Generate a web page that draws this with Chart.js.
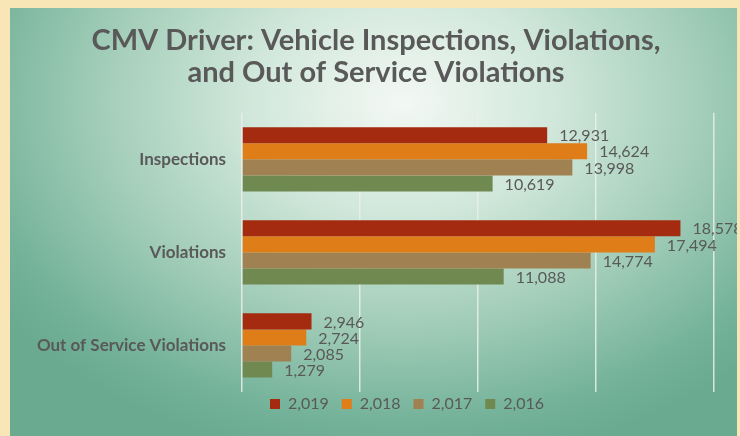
<!DOCTYPE html>
<html>
<head>
<meta charset="utf-8">
<script src="https://cdn.jsdelivr.net/npm/chart.js@4"></script>
<style>
  html, body { margin: 0; padding: 0; }
  body { width: 740px; height: 436px; background: #f9e6b6; position: relative; overflow: hidden; }
  #panel {
    position: absolute; left: 10px; top: 8px; width: 727px; height: 428px; overflow: hidden;
    background: radial-gradient(ellipse 68% 85% at 54% 22%, #f3f8f4 0%, #d2e8dc 30%, #a4ceba 60%, #74b29a 88%, #6aaa91 100%);
  }
  #wrap { position: absolute; left: -10px; top: -8px; width: 740px; height: 436px; }
</style>
</head>
<body>
<div id="panel">
  <div id="wrap"><canvas id="chart" width="740" height="436"></canvas></div>
</div>
<script>
// data
const categories = ['Inspections', 'Violations', 'Out of Service Violations'];
const years = ['2,019', '2,018', '2,017', '2,016'];
const values2019 = [12931, 18578, 2946];
const values2018 = [14624, 17494, 2724];
const values2017 = [13998, 14774, 2085];
const values2016 = [10619, 11088, 1279];
const colors = ['#a52b10', '#df7d19', '#a08152', '#6f8950'];

const textColor = '#595959';
const fontName = 'Lato, "Open Sans", sans-serif';

// value labels at the end of each bar
const barLabels = {
  id: 'barLabels',
  afterDatasetsDraw(chart) {
    const ctx = chart.ctx;
    ctx.save();
    ctx.font = '16px ' + fontName;
    ctx.fillStyle = textColor;
    ctx.textAlign = 'left';
    ctx.textBaseline = 'middle';
    chart.data.datasets.forEach((ds, i) => {
      chart.getDatasetMeta(i).data.forEach((bar, j) => {
        ctx.fillText(ds.data[j].toLocaleString('en-US'), bar.x + 12, bar.y + 1);
      });
    });
    ctx.restore();
  }
};

// title and legend sit a bit right of centre in the original
const shiftBoxes = {
  id: 'shiftBoxes',
  afterLayout(chart) {
    const lg = chart.legend;
    lg.left += 45;
    lg.right += 45;
    lg.top -= 9;
    lg.bottom -= 9;
    const tb = chart.titleBlock;
    tb.left += 14;
    tb.right += 14;
  }
};

new Chart(document.getElementById('chart'), {
  type: 'bar',
  data: {
    labels: categories,
    datasets: [
      { label: years[0], data: values2019, backgroundColor: colors[0] },
      { label: years[1], data: values2018, backgroundColor: colors[1] },
      { label: years[2], data: values2017, backgroundColor: colors[2] },
      { label: years[3], data: values2016, backgroundColor: colors[3] }
    ]
  },
  plugins: [barLabels, shiftBoxes],
  options: {
    indexAxis: 'y',
    responsive: false,
    animation: false,
    layout: { padding: { left: 10, right: 26, top: 0, bottom: 5 } },
    categoryPercentage: 0.69,
    barPercentage: 1.0,
    scales: {
      x: {
        min: 0,
        max: 20000,
        ticks: { display: false, stepSize: 5000 },
        grid: { color: 'rgba(235,240,237,0.85)', lineWidth: 1.5, drawTicks: false },
        border: { display: false }
      },
      y: {
        grid: { display: false },
        border: { display: false },
        ticks: { color: textColor, font: { family: fontName, size: 17, weight: 'bold' }, padding: 8 },
        afterFit(scale) { scale.width = 232; }
      }
    },
    plugins: {
      title: {
        display: true,
        text: ['CMV Driver: Vehicle Inspections, Violations,', 'and Out of Service Violations'],
        color: textColor,
        font: { family: fontName, size: 29, weight: 'bold', lineHeight: 1.1 },
        padding: { top: 25, bottom: 24 }
      },
      legend: {
        position: 'bottom',
        labels: {
          color: textColor,
          font: { family: fontName, size: 16 },
          boxWidth: 10,
          boxHeight: 10,
          padding: 13
        }
      },
      tooltip: { enabled: false }
    }
  }
});
</script>
</body>
</html>
